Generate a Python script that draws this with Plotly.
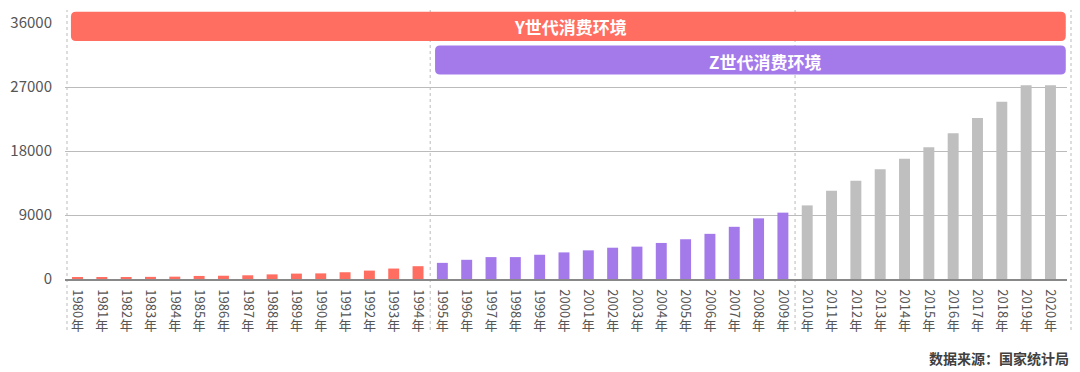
import plotly.graph_objects as go

years = list(range(1980, 2021))
tick_digits = [str(y) for y in years]
tick_suffix = ["年"] * len(years)
values = [240, 265, 285, 300, 330, 430, 460, 520, 650, 760, 790, 950, 1180, 1470, 1800,
          2270, 2700, 3080, 3080, 3410, 3740, 4030, 4400, 4550, 5070, 5590, 6350, 7340, 8530, 9330,
          10350, 12420, 13820, 15420, 16920, 18520, 20490, 22640, 24930, 27240, 27240]
group_y = years[:15]
group_z = years[15:30]
y_values = values[:15]
z_values = values[15:30]
rest_years = years[30:]
rest_values = values[30:]
y_ticks = [0, 9000, 18000, 27000, 36000]
banner_y_label = "Y世代消费环境"
banner_z_label = "Z世代消费环境"
source_label = "数据来源：国家统计局"

RED = "#FF6E61"
PURPLE = "#A47AEB"
GREY = "#BFBFBF"
FONT = "Noto Sans CJK SC"

fig = go.Figure()
for xs, ys, c in [(group_y, y_values, RED), (group_z, z_values, PURPLE), (rest_years, rest_values, GREY)]:
    fig.add_trace(go.Bar(x=xs, y=ys, marker=dict(color=c, line=dict(width=0)), width=0.45,
                         showlegend=False, hoverinfo="x+y"))
# invisible trace that carries the secondary x axis (for the upright "年" labels)
fig.add_trace(go.Scatter(x=years, y=values, xaxis="x2", mode="markers",
                         marker=dict(opacity=0), showlegend=False, hoverinfo="skip"))

def rounded_rect(x0, x1, y0, y1, rx, ry):
    return (f"M {x0+rx},{y0} L {x1-rx},{y0} Q {x1},{y0} {x1},{y0+ry} "
            f"L {x1},{y1-ry} Q {x1},{y1} {x1-rx},{y1} L {x0+rx},{y1} "
            f"Q {x0},{y1} {x0},{y1-ry} L {x0},{y0+ry} Q {x0},{y0} {x0+rx},{y0} Z")

plot_h = 256.0
px_x = 24.325
def py(ypix):
    return (279.0 - ypix) / plot_h
def pxd(xpix):
    return years[0] + (xpix - 77.5) / px_x

shapes = []
for xv, ref in [(0.002, "paper"), (group_y[-1] + 0.5, "x"), (group_z[-1] + 0.5, "x"), (1.004, "paper")]:
    shapes.append(dict(type="line", xref=ref, yref="paper", x0=xv, x1=xv, y0=py(330), y1=py(10),
                       line=dict(color="#BBBBBB", width=1, dash="3px,3px"), layer="below"))
rx = 5 / px_x
ry = 5 / plot_h
x_end = years[-1] + 0.63
shapes.append(dict(type="path", xref="x", yref="paper",
                   path=rounded_rect(years[0] - 0.27, x_end, py(41), py(11.7), rx, ry),
                   fillcolor=RED, line=dict(width=0), layer="above"))
shapes.append(dict(type="path", xref="x", yref="paper",
                   path=rounded_rect(group_z[0] - 0.30, x_end, py(74.5), py(45.5), rx, ry),
                   fillcolor=PURPLE, line=dict(width=0), layer="above"))

annotations = [
    dict(xref="x", yref="paper", x=pxd(571), y=py(26.5), text=f"<b>{banner_y_label}</b>",
         showarrow=False, font=dict(family=FONT, size=17, color="white"), xanchor="center", yanchor="middle"),
    dict(xref="x", yref="paper", x=pxd(765.5), y=py(61), text=f"<b>{banner_z_label}</b>",
         showarrow=False, font=dict(family=FONT, size=17, color="white"), xanchor="center", yanchor="middle"),
    dict(xref="paper", yref="paper", x=1.004, y=py(358), text=f"<b>{source_label}</b>",
         showarrow=False, font=dict(family=FONT, size=14, color="#404040"), xanchor="right", yanchor="middle"),
]

xrange = [years[0] - 0.514, years[-1] + 0.68]
fig.update_layout(
    width=1080, height=372,
    margin=dict(l=65, r=13, t=23, b=93, autoexpand=False),
    paper_bgcolor="white", plot_bgcolor="white",
    font=dict(family=FONT, color="#555555"),
    shapes=shapes, annotations=annotations,
    bargap=0.55,
    xaxis=dict(
        type="linear", range=xrange,
        tickmode="array", tickvals=years, ticktext=tick_digits, tickangle=90,
        tickfont=dict(family=FONT, size=13, color="#555555"),
        showgrid=False, zeroline=False, showline=True, linecolor="#888888", linewidth=1.5,
        ticks="", ticklabelstandoff=6, automargin=False,
    ),
    xaxis2=dict(
        type="linear", range=xrange, overlaying="x", side="bottom", anchor="y",
        tickmode="array", tickvals=years, ticktext=tick_suffix, tickangle=0,
        tickfont=dict(family=FONT, size=13, color="#555555"),
        showgrid=False, zeroline=False, showline=False,
        ticks="", ticklabelstandoff=37, automargin=False,
    ),
    yaxis=dict(
        range=[0, 36000], tickmode="array", tickvals=y_ticks, ticktext=[str(v) for v in y_ticks],
        tickfont=dict(family=FONT, size=15, color="#555555"),
        showgrid=True, gridcolor="#BBBBBB", gridwidth=1, zeroline=False, showline=False,
        ticks="", ticklabelstandoff=12, automargin=False,
    ),
)

fig.write_html("out.html", post_script="document.body.style.margin='0';",
               config={"displayModeBar": False})
